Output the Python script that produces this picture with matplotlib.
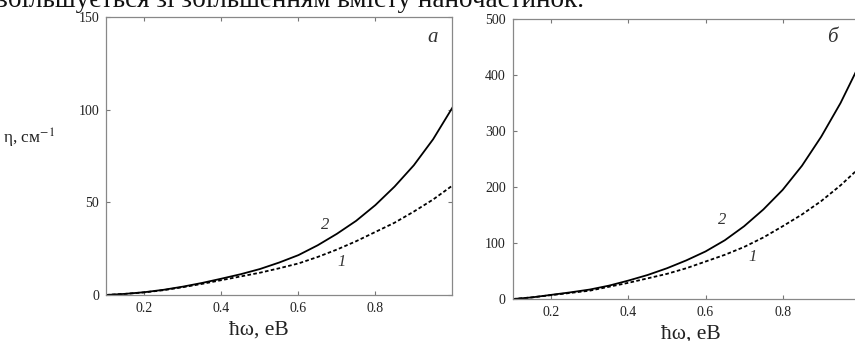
import matplotlib
matplotlib.use('Agg')
import matplotlib.pyplot as plt

plt.rcParams['font.family'] = ['Liberation Serif', 'DejaVu Serif']
plt.rcParams['mathtext.fontset'] = 'stix'

# photon energy, eV
energy = [0.10, 0.15, 0.20, 0.25, 0.30, 0.35, 0.40, 0.45, 0.50, 0.55,
          0.60, 0.65, 0.70, 0.75, 0.80, 0.85, 0.90, 0.95, 1.00]

# panel a: absorption, cm^-1
eta_a1 = [0.0, 0.6, 1.4, 2.6, 4.2, 6.0, 8.0, 10.0, 12.0, 14.4,
          17.0, 20.5, 24.5, 29.0, 34.0, 39.0, 45.0, 51.5, 59.0]
eta_a2 = [0.0, 0.6, 1.5, 2.8, 4.5, 6.5, 8.8, 11.2, 14.0, 17.5,
          21.5, 26.8, 33.0, 40.0, 48.5, 58.5, 70.0, 84.0, 101.0]

# panel b
eta_b1 = [0.0, 3.0, 7.0, 11.0, 15.0, 22.0, 29.0, 37.0, 45.0, 55.0,
          67.0, 79.0, 93.0, 110.0, 130.0, 151.0, 175.0, 203.0, 235.0]
eta_b2 = [0.0, 3.0, 7.5, 12.0, 17.0, 24.0, 33.0, 43.0, 55.0, 69.0,
          85.0, 105.0, 130.0, 160.0, 195.0, 238.0, 290.0, 350.0, 420.0]

xticks = [0.2, 0.4, 0.6, 0.8]
yticks_a = [0, 50, 100, 150]
yticks_b = [0, 100, 200, 300, 400, 500]

fig = plt.figure(figsize=(8.55, 3.41), dpi=100)

# line of body text cut off by the scan
fig.text(-0.004, 1 - 7 / 341, 'збільшується зі збільшенням вмісту наночастинок.',
         fontsize=19.5, va='baseline', ha='left', color='#111111')

ax1 = fig.add_axes([0.124, 0.135, 0.405, 0.815])
ax2 = fig.add_axes([0.5996, 0.123, 0.406, 0.821])

panels = [(ax1, eta_a1, eta_a2, yticks_a, 'а', (0.95, 139), (0.669, 37.8), (0.712, 18)),
          (ax2, eta_b1, eta_b2, yticks_b, 'б', (0.929, 468), (0.643, 141), (0.721, 75.5))]

for ax, e1, e2, yt, letter, lpos, pos2, pos1 in panels:
    ax.plot(energy, e2, color='black', lw=1.3)
    ax.plot(energy, e1, color='black', lw=1.3, linestyle=(0, (2.0, 1.3)))
    ax.set_xlim(0.1, 1.0)
    ax.set_ylim(yt[0], yt[-1])
    ax.set_xticks(xticks)
    ax.set_xticklabels(['0.2', '0.4', '0.6', '0.8'])
    ax.set_yticks(yt)
    ax.tick_params(direction='in', length=3, width=0.8, color='#777777',
                   labelsize=10, labelcolor='#222222', top=True, right=True, pad=5)
    for sp in ax.spines.values():
        sp.set_color('#888888')
        sp.set_linewidth(0.9)
    ax.text(lpos[0], lpos[1], letter, fontsize=15, style='italic',
            ha='center', va='center', color='#333333')
    ax.text(pos2[0], pos2[1], '2', fontsize=12, style='italic',
            ha='center', va='center', color='#333333')
    ax.text(pos1[0], pos1[1], '1', fontsize=12, style='italic',
            ha='center', va='center', color='#333333')

fig.text(3 / 855, 1 - 138 / 341, 'η, см$^{-1}$', fontsize=12.5, ha='left', va='center',
         color='#222222')
fig.text(259 / 855, 1 - 330 / 341, 'ħω, еВ', fontsize=15.5, ha='center', va='center',
         color='#222222')
fig.text(691 / 855, 1 - 334 / 341, 'ħω, еВ', fontsize=15.5, ha='center', va='center',
         color='#222222')

fig.savefig('out.png', dpi=100)
